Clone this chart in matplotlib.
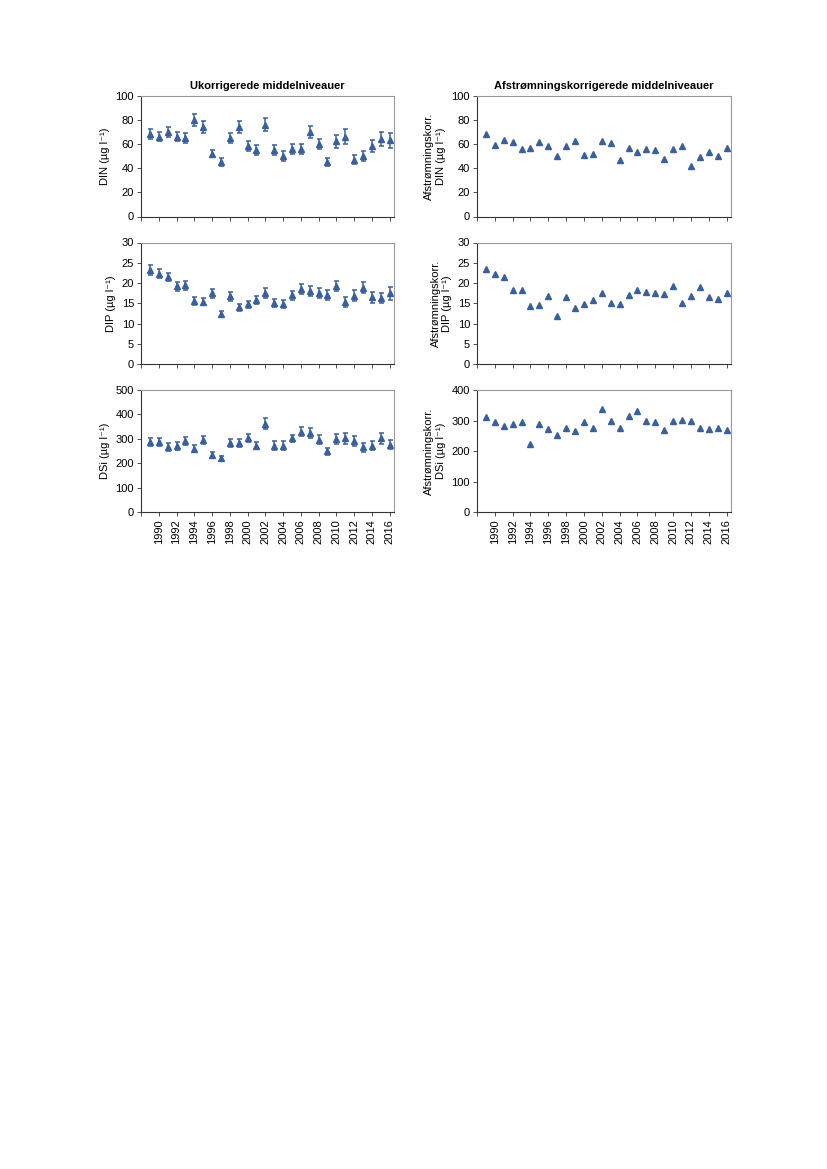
import matplotlib
matplotlib.use("Agg")
import matplotlib.pyplot as plt

plt.rcParams['font.family'] = ['Liberation Sans', 'DejaVu Sans']

years = list(range(1989, 2017))

din = [68, 66, 70, 66, 65, 80, 74, 52, 45, 65, 74, 58, 55, 76,
       55, 50, 56, 56, 70, 60, 45, 62, 66, 47, 50, 58, 64, 63]
din_err = [4, 4, 4, 4, 4, 5, 5, 3, 3, 4, 5, 4, 4, 5,
           4, 4, 4, 4, 5, 4, 3, 5, 6, 4, 4, 5, 6, 6]
din_korr = [68, 59, 63, 61.5, 56, 57, 61.5, 58.5, 50, 58.5, 62, 51, 51.5, 62.5,
            60.5, 47, 57, 53, 56, 55, 47.5, 56, 58, 42, 49.5, 53, 50, 57]

dip = [23.3, 22.3, 21.5, 19.2, 19.5, 15.6, 15.4, 17.5, 12.5, 16.7, 14.0, 14.8, 15.8, 17.6,
       15.0, 14.8, 17.0, 18.5, 18.0, 17.5, 17.1, 19.3, 15.3, 16.9, 18.9, 16.5, 16.3, 17.5]
dip_err = [1.2, 1.1, 1.1, 1.1, 1.1, 0.9, 0.9, 1.1, 0.7, 1.0, 0.9, 0.9, 1.0, 1.2,
           1.0, 1.0, 1.1, 1.2, 1.2, 1.2, 1.3, 1.3, 1.2, 1.3, 1.4, 1.3, 1.3, 1.6]
dip_korr = [23.5, 22.3, 21.6, 18.2, 18.3, 14.3, 14.5, 16.8, 12.0, 16.5, 13.8, 14.8, 15.8, 17.5,
            15.2, 14.8, 17.0, 18.3, 17.9, 17.5, 17.2, 19.2, 15.1, 16.9, 19.0, 16.5, 16.1, 17.5]

dsi = [287, 288, 268, 272, 293, 260, 296, 233, 220, 282, 285, 305, 273, 363,
       273, 273, 302, 330, 325, 297, 250, 300, 303, 290, 265, 273, 303, 277]
dsi_err = [17, 17, 17, 16, 16, 14, 15, 13, 12, 16, 16, 16, 16, 22,
           18, 17, 16, 18, 20, 18, 14, 20, 22, 20, 18, 20, 22, 20]
dsi_korr = [313, 295, 281, 288, 295, 222, 290, 271, 254, 277, 265, 296, 276, 338,
            300, 275, 314, 330, 298, 295, 268, 297, 303, 300, 275, 272, 276, 270]

color = '#3a5f9a'

fig = plt.figure(figsize=(8.27, 11.69), dpi=100)
W, H = 827, 1169

def make_ax(x0, x1, y0, y1):
    return fig.add_axes([x0 / W, 1 - y1 / H, (x1 - x0) / W, (y1 - y0) / H])

rows = [(95.5, 216.5), (242.5, 364.3), (390, 512.3)]
cols = [(141, 394), (477, 731)]

left_data = [(din, din_err, 'DIN (µg l⁻¹)', (0, 100), range(0, 101, 20)),
             (dip, dip_err, 'DIP (µg l⁻¹)', (0, 30), range(0, 31, 5)),
             (dsi, dsi_err, 'DSi (µg l⁻¹)', (0, 500), range(0, 501, 100))]
right_data = [(din_korr, 'Afstrømningskorr.\nDIN (µg l⁻¹)', (0, 100), range(0, 101, 20)),
              (dip_korr, 'Afstrømningskorr.\nDIP (µg l⁻¹)', (0, 30), range(0, 31, 5)),
              (dsi_korr, 'Afstrømningskorr.\nDSi (µg l⁻¹)', (0, 400), range(0, 401, 100))]

def style(ax, ylim, yticks, last):
    ax.set_xlim(1988, 2016.5)
    ax.set_ylim(*ylim)
    ax.set_yticks(list(yticks))
    xt = list(range(1988, 2017, 2))
    ax.set_xticks(xt)
    if last:
        ax.set_xticklabels([''] + [str(y) for y in xt[1:]], rotation=90)
    else:
        ax.set_xticklabels([])
    ax.tick_params(axis='both', labelsize=8, length=3, width=0.6, color='#333333', pad=2)
    for s in ['top', 'right']:
        ax.spines[s].set_color('#999999')
        ax.spines[s].set_linewidth(0.8)
    for s in ['left', 'bottom']:
        ax.spines[s].set_color('#333333')
        ax.spines[s].set_linewidth(0.8)

for i, (y0, y1) in enumerate(rows):
    ax = make_ax(cols[0][0], cols[0][1], y0, y1)
    vals, err, lab, ylim, yt = left_data[i]
    ax.errorbar(years, vals, yerr=err, fmt='^', color=color, ms=4,
                ecolor=color, elinewidth=1.1, capsize=1.8, capthick=1.1)
    ax.set_ylabel(lab, fontsize=8, labelpad=4)
    style(ax, ylim, yt, i == 2)
    if i == 0:
        ax.set_title('Ukorrigerede middelniveauer', fontsize=8, fontweight='bold', pad=5)

    ax = make_ax(cols[1][0], cols[1][1], y0, y1)
    vals, lab, ylim, yt = right_data[i]
    ax.plot(years, vals, '^', color=color, ms=4, linestyle='none')
    ax.set_ylabel(lab, fontsize=8, labelpad=4)
    style(ax, ylim, yt, i == 2)
    if i == 0:
        ax.set_title('Afstrømningskorrigerede middelniveauer', fontsize=8, fontweight='bold', pad=5)

fig.savefig('out.png', dpi=100)
